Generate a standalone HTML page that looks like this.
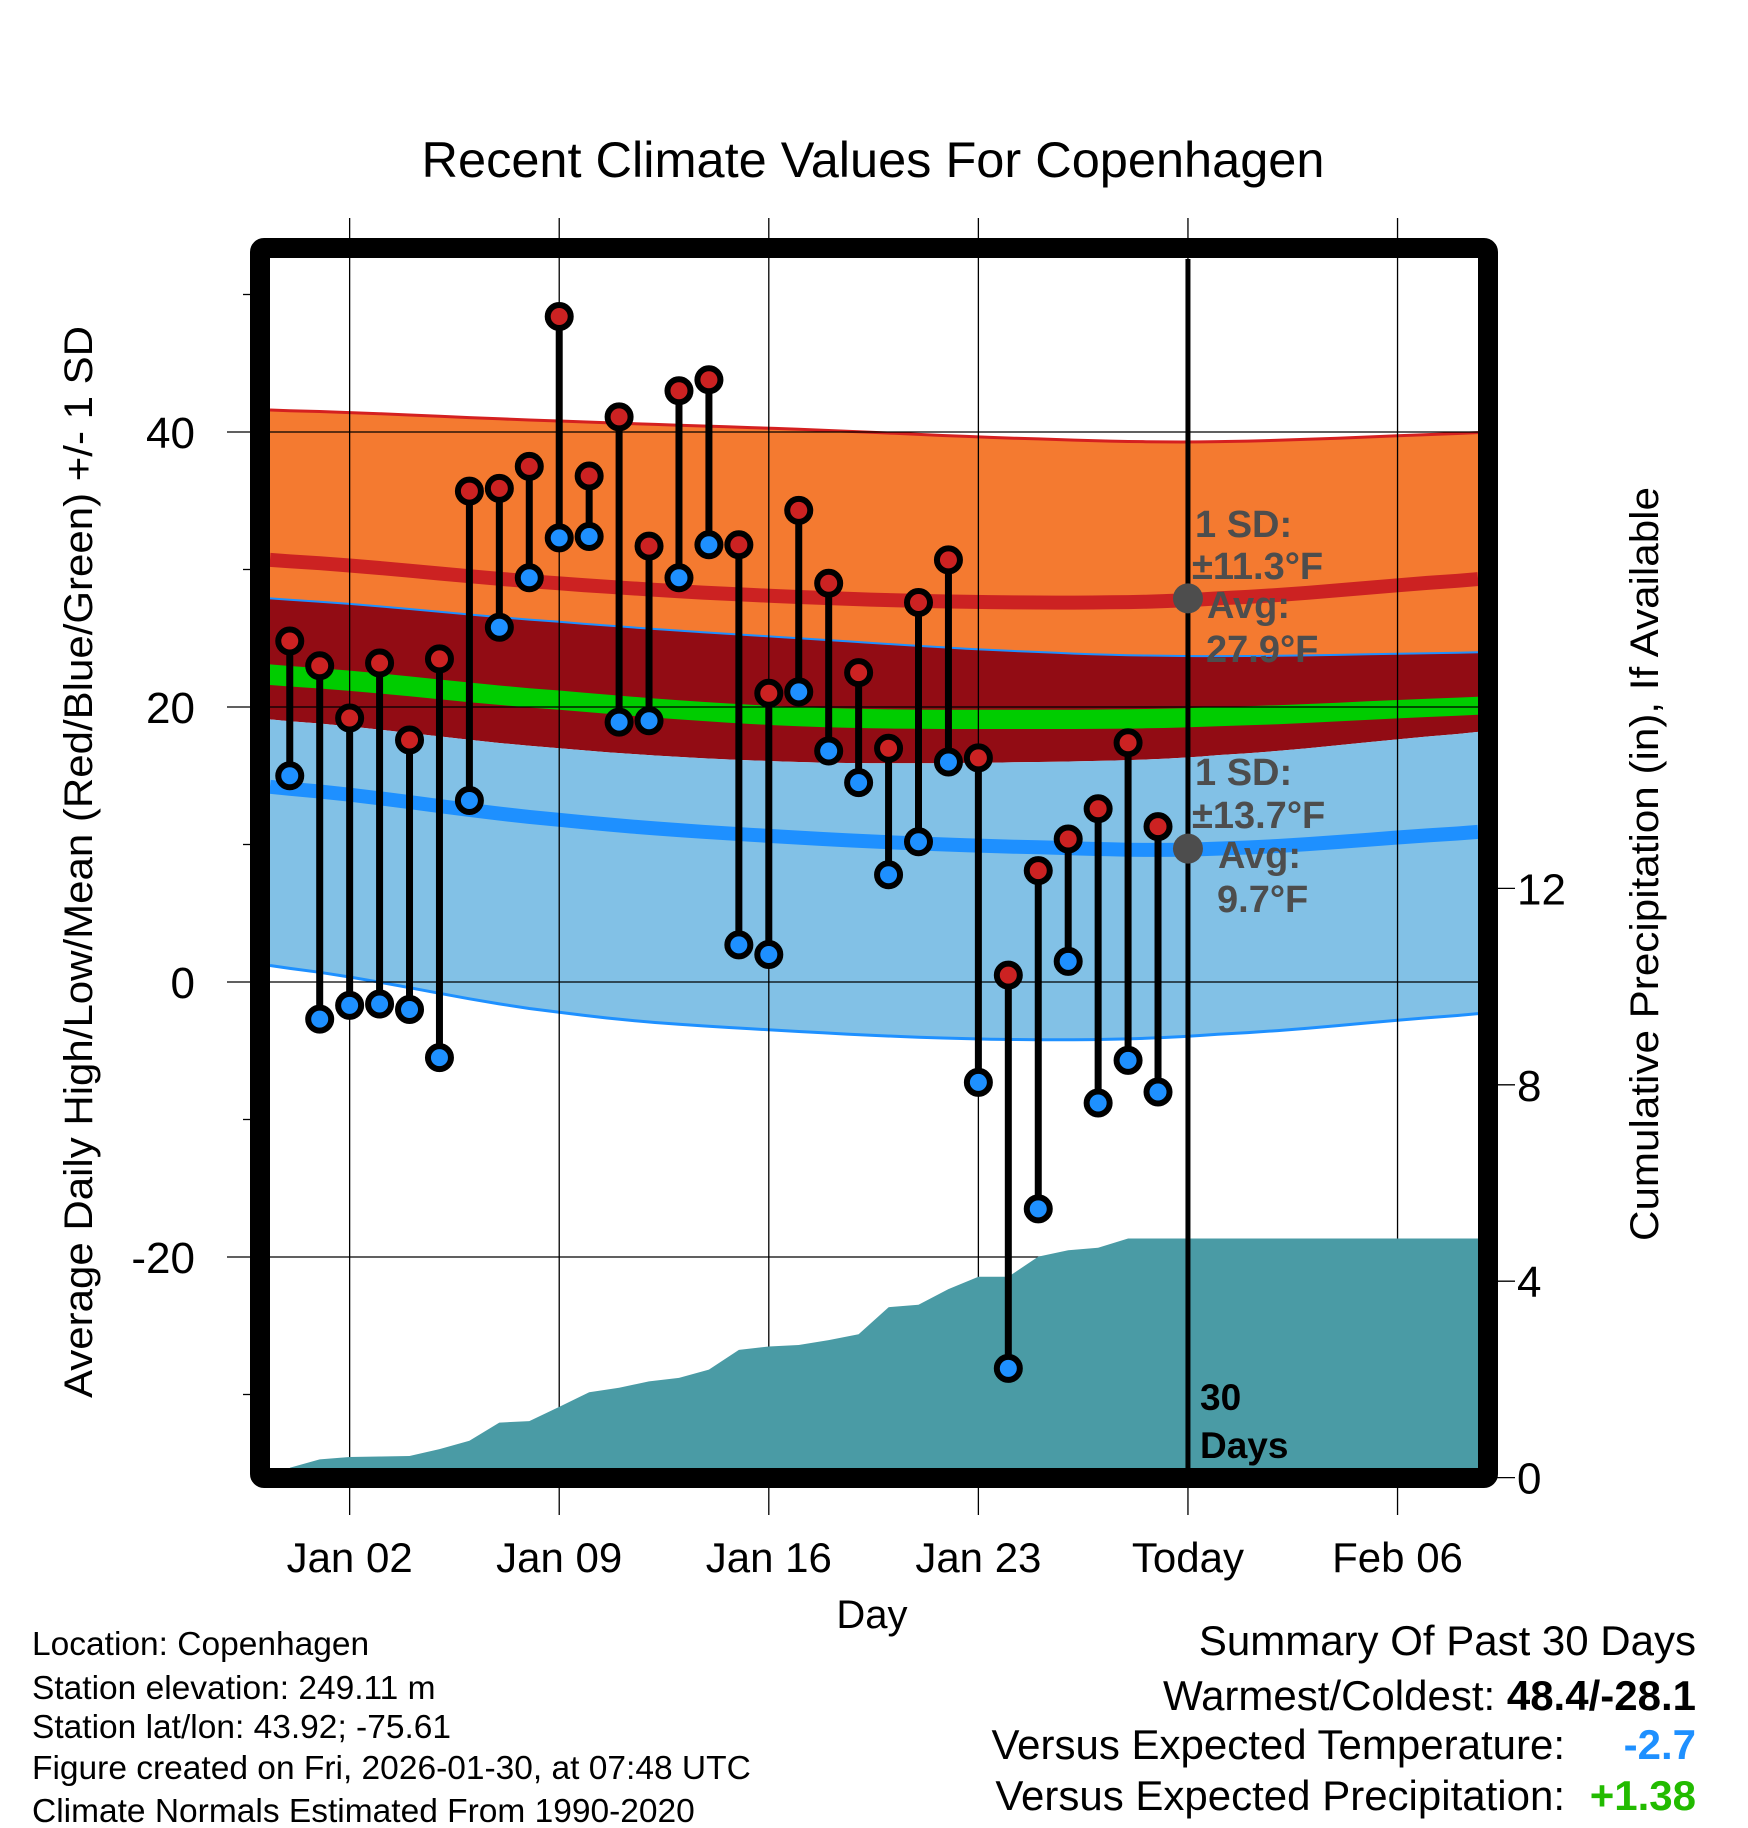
<!DOCTYPE html>
<html><head><meta charset="utf-8"><style>
html,body{margin:0;padding:0;background:#fff;}
svg{display:block;font-family:"Liberation Sans",sans-serif;}
</style></head><body>
<svg id="chart" width="1748" height="1828" viewBox="0 0 1748 1828" xmlns="http://www.w3.org/2000/svg">
<text x="873" y="177" font-size="50.5" text-anchor="middle">Recent Climate Values For Copenhagen</text>
<g id="bands"></g>
<g id="grid"></g>
<g id="precip"></g>
<g id="marks"></g>
<g id="axes"></g>
<text transform="translate(92,862) rotate(-90)" font-size="40" text-anchor="middle" textLength="1072" lengthAdjust="spacingAndGlyphs">Average Daily High/Low/Mean (Red/Blue/Green) +/- 1 SD</text>
<text transform="translate(1658,864) rotate(-90)" font-size="40" text-anchor="middle" textLength="754" lengthAdjust="spacingAndGlyphs">Cumulative Precipitation (in), If Available</text>
<text x="872" y="1628" font-size="40" text-anchor="middle">Day</text>
<g font-size="33.5">
<text x="32" y="1655">Location: Copenhagen</text>
<text x="32" y="1699">Station elevation: 249.11 m</text>
<text x="32" y="1738">Station lat/lon: 43.92; -75.61</text>
<text x="32" y="1779">Figure created on Fri, 2026-01-30, at 07:48 UTC</text>
<text x="32" y="1822">Climate Normals Estimated From 1990-2020</text>
</g>
<g font-size="42">
<text x="1696" y="1655" text-anchor="end">Summary Of Past 30 Days</text>
<text x="1696" y="1710" text-anchor="end">Warmest/Coldest:  <tspan font-weight="bold">48.4/-28.1</tspan></text>
<text x="1565" y="1759" text-anchor="end">Versus Expected Temperature:</text>
<text x="1696" y="1759" text-anchor="end" font-weight="bold" fill="#1E90FF">-2.7</text>
<text x="1565" y="1810" text-anchor="end">Versus Expected Precipitation:</text>
<text x="1696" y="1810" text-anchor="end" font-weight="bold" fill="#22BB00">+1.38</text>
</g>
</svg>
<script>
// ---- data ----
const highs = [24.8,23,19.2,23.2,17.6,23.5,35.7,35.9,37.5,48.4,36.8,41.1,31.7,43,43.8,31.8,21,34.3,29,22.5,17,27.6,30.7,16.3,0.5,8.1,10.4,12.6,17.4,11.3];
const lows = [15,-2.7,-1.7,-1.6,-2,-5.5,13.2,25.8,29.4,32.3,32.4,18.9,19,29.4,31.8,2.7,2,21.1,16.8,14.5,7.8,10.2,16,-7.3,-28.1,-16.5,1.5,-8.8,-5.7,-8];
const precipCum = [0.2,0.37,0.42,0.43,0.44,0.58,0.75,1.12,1.15,1.44,1.74,1.83,1.96,2.03,2.2,2.6,2.67,2.7,2.8,2.92,3.47,3.52,3.84,4.09,4.09,4.5,4.63,4.68,4.87,4.87];
const normDays = [-2,8,16,24,30,40];
const highUpper = [41.6,40.8,40.2,39.5,39.3,40.0];
const highMean = [30.7,29.0,28.0,27.6,27.9,29.4];
const highLower = [27.9,26.2,25.0,24.0,23.7,24.0];
const meanLo = [21.6,19.8,18.6,18.4,18.6,19.5];
const meanHi = [23.1,21.2,20.0,19.8,20.0,20.8];
const lowUpper = [19.1,17.0,16.0,16.0,16.5,18.3];
const lowMean = [14.2,11.8,10.5,9.8,9.7,11.0];
const lowLower = [1.2,-2.2,-3.6,-4.2,-3.8,-2.2];
const yTicks = [40,20,0,-20];
const yMinor = [50,30,10,-10,-30];
const pTicks = [0,4,8,12];
const xTickDays = [1,8,15,22,29,36];
const xTickLabels = ["Jan 02","Jan 09","Jan 16","Jan 23","Today","Feb 06"];

// ---- scales ----
const X0=270,X1=1478,Y0=259,Y1=1468;
function x(d){return 319.7+29.94*d;}
function xd(i){return x(i-1);}
function y(v){return 982-13.75*v;}
function p(v){return 1477.6-49.1*v;}
const NS="http://www.w3.org/2000/svg";
function mk(tag,attrs,parent){const e=document.createElementNS(NS,tag);for(const k in attrs)e.setAttribute(k,attrs[k]);parent.appendChild(e);return e;}
function smooth(xs,vs){
  const pts=[];
  for(let i=0;i<xs.length-1;i++){
    const p0=vs[Math.max(0,i-1)],p1=vs[i],p2=vs[i+1],p3=vs[Math.min(vs.length-1,i+2)];
    for(let t=0;t<1;t+=0.1){
      const t2=t*t,t3=t2*t;
      const v=0.5*((2*p1)+(-p0+p2)*t+(2*p0-5*p1+4*p2-p3)*t2+(-p0+3*p1-3*p2+p3)*t3);
      pts.push([xs[i]+(xs[i+1]-xs[i])*t,v]);
    }
  }
  pts.push([xs[xs.length-1],vs[vs.length-1]]);
  return pts;
}
function clampX(d){return Math.max(X0,Math.min(X1,x(d)));}
function bandPath(a,b){
  const A=smooth(normDays,a),B=smooth(normDays,b).reverse();
  return "M"+A.map(q=>clampX(q[0]).toFixed(1)+","+y(q[1]).toFixed(1)).join("L")+"L"+B.map(q=>clampX(q[0]).toFixed(1)+","+y(q[1]).toFixed(1)).join("L")+"Z";
}
function linePath(a){const A=smooth(normDays,a);return "M"+A.map(q=>clampX(q[0]).toFixed(1)+","+y(q[1]).toFixed(1)).join("L");}

const bands=document.getElementById('bands');
let e;
e=mk('path',{d:bandPath(highUpper,highLower),fill:'#F47A30'},bands);


e=mk('path',{d:bandPath(highLower,lowUpper),fill:'#920C14'},bands);


e=mk('path',{d:bandPath(lowUpper,lowLower),fill:'#82C1E6'},bands);


e=mk('path',{d:bandPath(meanHi,meanLo),fill:'#00CC00'},bands);


e=mk('path',{d:linePath(highUpper),fill:'none',stroke:'#D42020','stroke-width':3},bands);


e=mk('path',{d:linePath(highMean),fill:'none',stroke:'#CC2222','stroke-width':14},bands);


e=mk('path',{d:linePath(highLower),fill:'none',stroke:'#1E90FF','stroke-width':2},bands);


e=mk('path',{d:linePath(lowMean),fill:'none',stroke:'#1E90FF','stroke-width':14},bands);


e=mk('path',{d:linePath(lowLower),fill:'none',stroke:'#1E90FF','stroke-width':3},bands);



// grid
const grid=document.getElementById('grid');
xTickDays.forEach((d,i)=>{
  e=mk('line',{x1:x(d),x2:x(d),y1:218,y2:1515,stroke:'#000','stroke-width':1.3},grid);
  
  
});
yTicks.forEach(v=>{
  e=mk('line',{x1:227,x2:X1,y1:y(v),y2:y(v),stroke:'#000','stroke-width':1.3},grid);
  
  
});

// precip area
const pg=document.getElementById('precip');
let pd="M"+(X0+20)+","+Y1+"L"+(X0+20)+","+Y1;
precipCum.forEach((v,i)=>{pd+="L"+xd(i).toFixed(1)+","+p(v).toFixed(1);});
pd+="L"+X1+","+p(precipCum[precipCum.length-1]).toFixed(1)+"L"+X1+","+Y1+"Z";
e=mk('path',{d:pd,fill:'#4A9BA5'},pg);



// marks
const mg=document.getElementById('marks');
highs.forEach((h,i)=>{
  e=mk('line',{x1:xd(i),x2:xd(i),y1:y(h),y2:y(lows[i]),stroke:'#000','stroke-width':7},mg);
  
  
});
highs.forEach((h,i)=>{
  e=mk('circle',{cx:xd(i),cy:y(h),r:11.5,fill:'#CC2222',stroke:'#000','stroke-width':6},mg);
  
  
  e=mk('circle',{cx:xd(i),cy:y(lows[i]),r:11.5,fill:'#1E90FF',stroke:'#000','stroke-width':6},mg);
  
  
});
e=mk('line',{x1:x(29),x2:x(29),y1:Y0,y2:Y1,stroke:'#000','stroke-width':5},mg);


e=mk('circle',{cx:x(29),cy:y(27.9),r:15,fill:'#4d4d4d'},mg);


e=mk('circle',{cx:x(29),cy:y(9.7),r:15,fill:'#4d4d4d'},mg);


const ann=[["1 SD:",1195,537],["\u00B111.3\u00B0F",1192,579],["Avg:",1207,618],["27.9\u00B0F",1206,662],["1 SD:",1195,785],["\u00B113.7\u00B0F",1192,828],["Avg:",1218,868],["9.7\u00B0F",1217,912]];
ann.forEach(a=>{
  e=mk('text',{x:a[1],y:a[2],'font-size':38,'font-weight':'bold',fill:'#4d4d4d'},mg);
  e.textContent=a[0];
  
  
});
e=mk('text',{x:1200,y:1410,'font-size':37,'font-weight':'bold',fill:'#000'},mg);
e.textContent="30";


e=mk('text',{x:1200,y:1458,'font-size':37,'font-weight':'bold',fill:'#000'},mg);
e.textContent="Days";



// axes
const ax=document.getElementById('axes');
e=mk('rect',{x:260,y:248,width:1228,height:1230,fill:'none',stroke:'#000','stroke-width':20,rx:4},ax);


yMinor.forEach(v=>{
  e=mk('line',{x1:243,x2:252,y1:y(v),y2:y(v),stroke:'#000','stroke-width':1.3},ax);
  
  
});
yTicks.forEach(v=>{
  e=mk('text',{x:195,y:y(v)+16,'font-size':44,'text-anchor':'end'},ax);
  e.textContent=String(v);
  
  
});
pTicks.forEach(v=>{
  e=mk('line',{x1:1488,x2:1515,y1:p(v),y2:p(v),stroke:'#000','stroke-width':1.3},ax);
  
  
  e=mk('text',{x:1517,y:p(v)+16,'font-size':44},ax);
  e.textContent=String(v);
  
  
});
xTickDays.forEach((d,i)=>{
  e=mk('text',{x:x(d),y:1572,'font-size':42,'text-anchor':'middle'},ax);
  e.textContent=xTickLabels[i];
  
  
});
</script>
</body></html>
